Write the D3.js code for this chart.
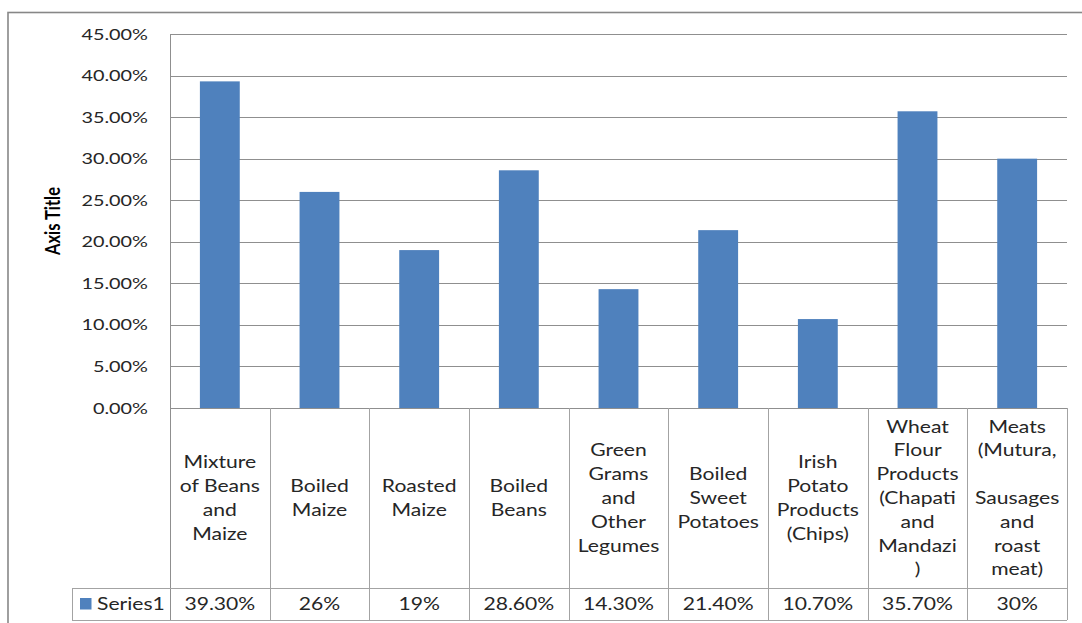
<!DOCTYPE html>
<html>
<head>
<meta charset="utf-8">
<script src="https://cdn.jsdelivr.net/npm/d3@7"></script>
<style>
  html, body { margin: 0; padding: 0; background: #fff; }
  svg { display: block; }
  text { font-family: Lato, "Open Sans", sans-serif; fill: #262626; }
</style>
</head>
<body>
<svg id="chart" width="1082" height="623"></svg>
<script>
// Share of respondents consuming each street food (percent)
const categories = [
  "Mixture of Beans and Maize", "Boiled Maize", "Roasted Maize", "Boiled Beans",
  "Green Grams and Other Legumes", "Boiled Sweet Potatoes",
  "Irish Potato Products (Chips)", "Wheat Flour Products (Chapati and Mandazi)",
  "Meats (Mutura, Sausages and roast meat)"
];
// wrapped label lines as they appear in the data table cells
const categoryLines = [
  ["Mixture", "of Beans", "and", "Maize"],
  ["Boiled", "Maize"],
  ["Roasted", "Maize"],
  ["Boiled", "Beans"],
  ["Green", "Grams", "and", "Other", "Legumes"],
  ["Boiled", "Sweet", "Potatoes"],
  ["Irish", "Potato", "Products", "(Chips)"],
  ["Wheat", "Flour", "Products", "(Chapati", "and", "Mandazi", ")"],
  ["Meats", "(Mutura,", "", "Sausages", "and", "roast", "meat)"]
];
const seriesName = "Series1";
const values = [39.3, 26, 19, 28.6, 14.3, 21.4, 10.7, 35.7, 30];
const yTicks = [0, 5, 10, 15, 20, 25, 30, 35, 40, 45];
const axisTitle = "Axis Title";

const svg = d3.select("#chart");
const SX = 1.28;                     // horizontal stretch applied to all lettering
const grid = "#8f8f8f", rule = "#a3a3a3", barColor = "#4f81bd";

const plot = { left: 170, right: 1067, top: 34, bottom: 408 };
const table = { catBottom: 588, rowBottom: 620, legendLeft: 72 };

const x = d3.scaleBand().domain(categories).range([plot.left, plot.right]);
const xBar = d3.scaleBand().domain(categories).range([plot.left, plot.right])
  .paddingInner(0.6).paddingOuter(0.3);
const y = d3.scaleLinear().domain([0, 45]).range([plot.bottom, plot.top]);
const pct = d3.format(".2%");
const cellFmt = v => Number.isInteger(v) ? v + "%" : v.toFixed(2) + "%";

// outer chart frame
svg.append("rect")
  .attr("x", 8).attr("y", 12.5).attr("width", 1100).attr("height", 700)
  .attr("fill", "none").attr("stroke", "#878787").attr("stroke-width", 1.6);

// horizontal gridlines
svg.append("g").selectAll("line").data(yTicks.filter(t => t > 0)).join("line")
  .attr("x1", plot.left).attr("x2", plot.right)
  .attr("y1", d => Math.round(y(d)) + 0.5).attr("y2", d => Math.round(y(d)) + 0.5)
  .attr("stroke", grid).attr("stroke-width", 1);

// y tick labels
svg.append("g").selectAll("text").data(yTicks).join("text")
  .attr("transform", d => `translate(148,${y(d)}) scale(${SX},1)`)
  .attr("text-anchor", "end").attr("dy", "0.36em")
  .attr("font-size", 15.5)
  .text(d => pct(d / 100));

// y axis title
svg.append("text")
  .attr("transform", `translate(52,221) scale(${SX},1) rotate(-90)`)
  .attr("text-anchor", "middle").attr("dy", "0.36em")
  .attr("font-size", 16.5).attr("font-weight", "bold")
  .style("fill", "#000")
  .text(axisTitle);

// bars
svg.append("g").selectAll("rect").data(values).join("rect")
  .attr("x", (d, i) => xBar(categories[i]))
  .attr("width", xBar.bandwidth())
  .attr("y", d => y(d))
  .attr("height", d => y(0) - y(d))
  .attr("fill", barColor);

// data table rules
const t = svg.append("g").attr("stroke", rule).attr("stroke-width", 1);
// value axis line down through the table
t.append("line")
  .attr("x1", plot.left + 0.5).attr("x2", plot.left + 0.5)
  .attr("y1", plot.top).attr("y2", table.rowBottom)
  .attr("stroke", grid);
// baseline / table top
t.append("line")
  .attr("x1", plot.left).attr("x2", plot.right)
  .attr("y1", Math.round(y(0)) + 0.5).attr("y2", Math.round(y(0)) + 0.5)
  .attr("stroke", grid);
// category cell dividers
t.selectAll("line.div").data(categories).join("line").attr("class", "div")
  .attr("x1", d => Math.round(x(d) + x.bandwidth()) + 0.5)
  .attr("x2", d => Math.round(x(d) + x.bandwidth()) + 0.5)
  .attr("y1", plot.bottom).attr("y2", table.rowBottom);
// series row
[table.catBottom, table.rowBottom].forEach(yy =>
  t.append("line")
    .attr("x1", table.legendLeft).attr("x2", plot.right)
    .attr("y1", yy + 0.5).attr("y2", yy + 0.5));
t.append("line")
  .attr("x1", table.legendLeft + 0.5).attr("x2", table.legendLeft + 0.5)
  .attr("y1", table.catBottom).attr("y2", table.rowBottom);

// category labels in the table
const lineH = 23.8;
const catMid = (plot.bottom + table.catBottom) / 2;
svg.append("g").selectAll("text").data(categoryLines).join("text")
  .attr("transform", (d, i) =>
    `translate(${x(categories[i]) + x.bandwidth() / 2},${catMid - (d.length - 1) * lineH / 2}) scale(${SX},1)`)
  .attr("text-anchor", "middle")
  .attr("font-size", 16.5)
  .each(function (lines) {
    d3.select(this).selectAll("tspan").data(lines).join("tspan")
      .attr("x", 0).attr("y", (l, j) => j * lineH).attr("dy", "0.36em")
      .text(l => l);
  });

// legend key and series values row
const rowMid = (table.catBottom + table.rowBottom) / 2;
svg.append("rect")
  .attr("x", 80).attr("y", rowMid - 6).attr("width", 11.5).attr("height", 11.5)
  .attr("fill", barColor);
svg.append("text")
  .attr("transform", `translate(97,${rowMid}) scale(${SX},1)`)
  .attr("dy", "0.36em").attr("font-size", 16.5)
  .text(seriesName);
svg.append("g").selectAll("text").data(values).join("text")
  .attr("transform", (d, i) =>
    `translate(${x(categories[i]) + x.bandwidth() / 2},${rowMid}) scale(${SX},1)`)
  .attr("text-anchor", "middle").attr("dy", "0.36em")
  .attr("font-size", 16.5)
  .text(d => cellFmt(d));
</script>
</body>
</html>
